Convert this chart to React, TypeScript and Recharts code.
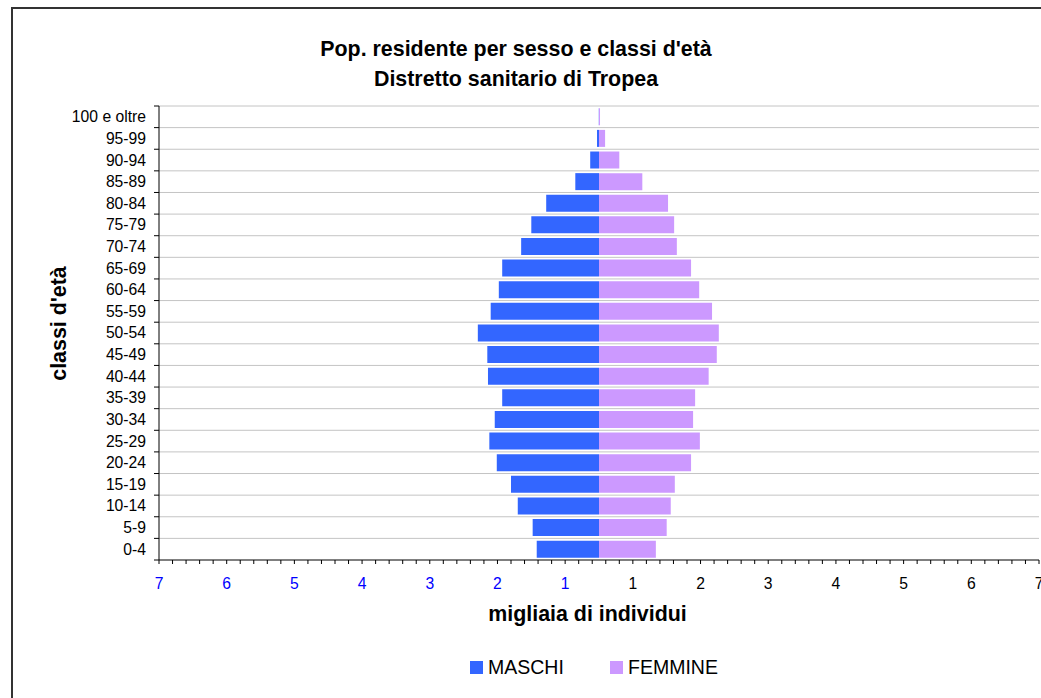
import { BarChart, Bar, XAxis, YAxis, CartesianGrid, Label } from 'recharts';

const AGE_CLASSES = [
  '100 e oltre', '95-99', '90-94', '85-89', '80-84', '75-79', '70-74',
  '65-69', '60-64', '55-59', '50-54', '45-49', '40-44', '35-39',
  '30-34', '25-29', '20-24', '15-19', '10-14', '5-9', '0-4',
];

// migliaia di individui
const MASCHI = [
  0.003, 0.03, 0.13, 0.35, 0.78, 1.0, 1.15, 1.43, 1.48, 1.6, 1.79,
  1.65, 1.64, 1.43, 1.54, 1.62, 1.51, 1.3, 1.2, 0.98, 0.92,
];
const FEMMINE = [
  0.015, 0.09, 0.3, 0.64, 1.02, 1.11, 1.15, 1.36, 1.48, 1.67, 1.77,
  1.74, 1.62, 1.42, 1.39, 1.49, 1.36, 1.12, 1.06, 1.0, 0.84,
];

// the axis runs from -6.5 to 6.5, labels show the rounded absolute value
const X_MIN = -6.5;
const X_MAX = 6.5;
const X_TICKS = Array.from({ length: 66 }, (_, k) => Math.round((X_MIN + 0.2 * k) * 10) / 10);

const SERIES = [
  { key: 'maschi', name: 'MASCHI', color: '#3366FF' },
  { key: 'femmine', name: 'FEMMINE', color: '#CC99FF' },
];

const FONT = "'Liberation Sans', Arial, Helvetica, sans-serif";
const W = 1041;
const H = 698;
const PLOT_LEFT = 159;
const PLOT_RIGHT = 1039;
const PLOT_TOP = 106;
const PLOT_BOTTOM = 560;
const Y_AXIS_W = 150;
const X_AXIS_H = 30;
const BAND = (PLOT_BOTTOM - PLOT_TOP) / AGE_CLASSES.length;

const data = AGE_CLASSES.map((age, i) => ({
  age,
  maschi: -MASCHI[i],
  femmine: FEMMINE[i],
}));

function AgeTick(props: any) {
  const { y, payload, index } = props;
  const last = index === AGE_CLASSES.length - 1;
  return (
    <g>
      <text
        x={PLOT_LEFT - 13}
        y={y}
        dy="0.35em"
        textAnchor="end"
        fontSize={15.7}
        fontFamily={FONT}
        fill="#000"
      >
        {payload.value}
      </text>
      <line x1={PLOT_LEFT - 5} x2={PLOT_LEFT} y1={y - BAND / 2} y2={y - BAND / 2} stroke="#000" />
      {last && (
        <line x1={PLOT_LEFT - 5} x2={PLOT_LEFT} y1={y + BAND / 2} y2={y + BAND / 2} stroke="#000" />
      )}
    </g>
  );
}

function ValueTick(props: any) {
  const { x, payload, index } = props;
  if (index % 5 !== 0) return <g />;
  const v = payload.value as number;
  return (
    <text
      x={x}
      y={589}
      textAnchor="middle"
      fontSize={15.7}
      fontFamily={FONT}
      fill={v < 0 ? '#0000FF' : '#000'}
    >
      {Math.round(Math.abs(v))}
    </text>
  );
}

export default function App() {
  return (
    <div
      style={{
        position: 'absolute',
        left: 0,
        top: 0,
        width: W,
        height: H,
        overflow: 'hidden',
        background: '#fff',
        fontFamily: FONT,
      }}
    >
      <div
        style={{
          position: 'absolute',
          left: 11,
          top: 7,
          width: 1100,
          height: 800,
          border: '2px solid #333',
        }}
      />
      <div
        style={{
          position: 'absolute',
          left: 0,
          top: 33.6,
          width: 1032,
          textAlign: 'center',
          fontWeight: 'bold',
          fontSize: 21.4,
          lineHeight: '30px',
          color: '#000',
        }}
      >
        <div>Pop. residente per sesso e classi d'età</div>
        <div>Distretto sanitario di Tropea</div>
      </div>

      <div style={{ position: 'absolute', left: 0, top: 0 }}>
        <BarChart
          width={W}
          height={H}
          data={data}
          layout="vertical"
          stackOffset="sign"
          barCategoryGap="10.5%"
          margin={{
            top: PLOT_TOP,
            right: W - PLOT_RIGHT,
            bottom: H - PLOT_BOTTOM - X_AXIS_H,
            left: PLOT_LEFT - Y_AXIS_W,
          }}
        >
          <CartesianGrid
            horizontal
            vertical={false}
            stroke="#c4c4c4"
            horizontalCoordinatesGenerator={() =>
              AGE_CLASSES.map((_, i) => PLOT_TOP + i * BAND)
            }
          />
          <XAxis
            type="number"
            domain={[X_MIN, X_MAX]}
            ticks={X_TICKS}
            interval={0}
            allowDataOverflow
            height={X_AXIS_H}
            axisLine={{ stroke: '#000' }}
            tickLine={{ stroke: '#000' }}
            tickSize={4}
            tick={<ValueTick />}
          >
            <Label
              content={() => (
                <text
                  x={587.5}
                  y={621}
                  textAnchor="middle"
                  fontSize={21.4}
                  fontWeight="bold"
                  fontFamily={FONT}
                  fill="#000"
                >
                  migliaia di individui
                </text>
              )}
            />
          </XAxis>
          <YAxis
            type="category"
            dataKey="age"
            width={Y_AXIS_W}
            interval={0}
            axisLine={{ stroke: '#000' }}
            tickLine={false}
            tick={<AgeTick />}
          >
            <Label
              content={() => (
                <text
                  x={66}
                  y={323.5}
                  transform="rotate(-90, 66, 323.5)"
                  textAnchor="middle"
                  fontSize={21.4}
                  fontWeight="bold"
                  fontFamily={FONT}
                  fill="#000"
                >
                  classi d'età
                </text>
              )}
            />
          </YAxis>
          {SERIES.map((s) => (
            <Bar
              key={s.key}
              dataKey={s.key}
              name={s.name}
              stackId="pyr"
              fill={s.color}
              isAnimationActive={false}
            />
          ))}
        </BarChart>
      </div>

      {SERIES.map((s, i) => {
        const left = i === 0 ? 470 : 610;
        return (
          <div key={s.key}>
            <div
              style={{
                position: 'absolute',
                left,
                top: 661,
                width: 12.5,
                height: 12.5,
                background: s.color,
              }}
            />
            <div
              style={{
                position: 'absolute',
                left: left + 18,
                top: 657.5,
                fontSize: 19.5,
                lineHeight: '19.5px',
                color: '#000',
                whiteSpace: 'nowrap',
              }}
            >
              {s.name}
            </div>
          </div>
        );
      })}
    </div>
  );
}
